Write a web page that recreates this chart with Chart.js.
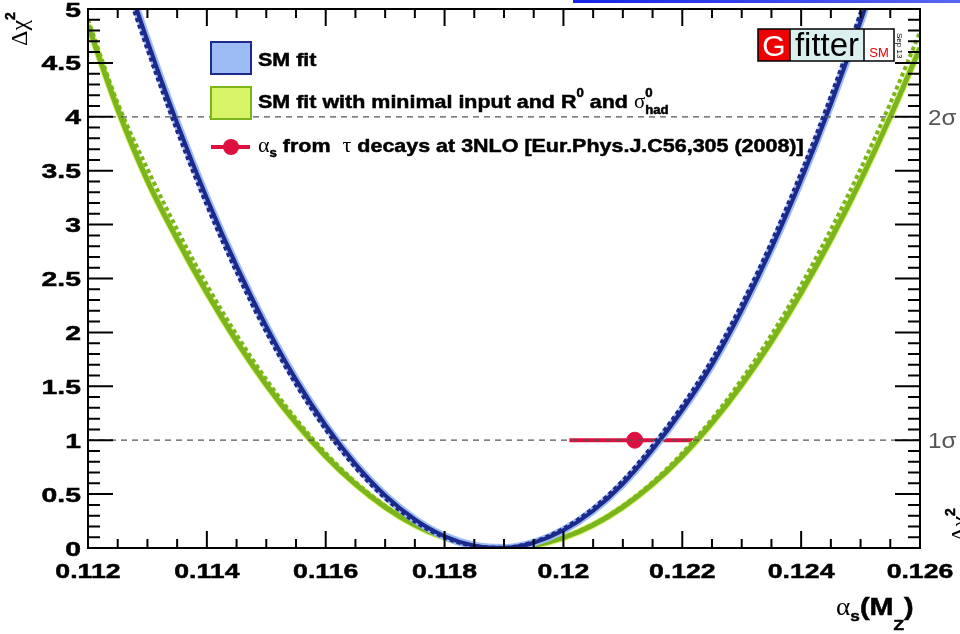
<!DOCTYPE html>
<html>
<head>
<meta charset="utf-8">
<script src="https://cdn.jsdelivr.net/npm/chart.js@4.4.0/dist/chart.umd.min.js"></script>
<style>
  html, body { margin: 0; padding: 0; background: #fff; overflow: hidden; }
  #wrap { position: relative; width: 960px; height: 634px; }
</style>
</head>
<body>
<div id="wrap"><canvas id="chart" width="960" height="634"></canvas></div>
<script>
// alpha_s(M_Z) scan points
const alphaS = [0.1120, 0.1125, 0.1130, 0.1135, 0.1140, 0.1145, 0.1150, 0.1155, 0.1160, 0.1165,
                0.1170, 0.1175, 0.1180, 0.1185, 0.1190, 0.1195, 0.1200, 0.1205, 0.1210, 0.1215,
                0.1220, 0.1225, 0.1230, 0.1235, 0.1240, 0.1245, 0.1250, 0.1255, 0.1260];

// SM fit (blue), solid and dotted curve
const smFit = [6.435, 5.536, 4.705, 3.941, 3.245, 2.617, 2.056, 1.562, 1.137, 0.779,
               0.488, 0.265, 0.109, 0.022, 0.001, 0.049, 0.164, 0.346, 0.596, 0.914,
               1.280, 1.701, 2.207, 2.778, 3.415, 4.117, 4.885, 5.719, 6.618];
const smFitDotted = [6.342, 5.450, 4.626, 3.869, 3.179, 2.558, 2.003, 1.517, 1.098, 0.746,
                     0.463, 0.246, 0.098, 0.017, 0.003, 0.057, 0.179, 0.368, 0.625, 0.949,
                     1.320, 1.749, 2.261, 2.837, 3.482, 4.190, 4.964, 5.800, 6.710];

// SM fit with minimal input (green), solid and dotted curve
const minFit = [4.850, 4.070, 3.408, 2.864, 2.367, 1.917, 1.515, 1.160, 0.852, 0.592,
                0.379, 0.213, 0.095, 0.024, 0.000, 0.024, 0.095, 0.213, 0.379, 0.592,
                0.852, 1.160, 1.515, 1.917, 2.367, 2.864, 3.408, 4.000, 4.639];
const minFitDotted = [4.900, 4.126, 3.516, 2.954, 2.441, 1.978, 1.563, 1.196, 0.879, 0.610,
                      0.391, 0.220, 0.098, 0.024, 0.000, 0.024, 0.098, 0.220, 0.391, 0.610,
                      0.879, 1.196, 1.563, 1.978, 2.441, 2.954, 3.516, 4.126, 4.785];

// alpha_s from tau decays
const tauValue = [0.1212];
const tauRange = [0.1201, 0.1223];

// 1 sigma / 2 sigma levels
const sigmaLevels = [1, 4];
const sigmaLabels = ['1σ', '2σ'];

// tick labels
const xTicks = [0.112, 0.114, 0.116, 0.118, 0.120, 0.122, 0.124, 0.126];
const xTickLabels = ['0.112', '0.114', '0.116', '0.118', '0.12', '0.122', '0.124', '0.126'];
const yTicks = [0, 0.5, 1, 1.5, 2, 2.5, 3, 3.5, 4, 4.5, 5];
const yTickLabels = ['0', '0.5', '1', '1.5', '2', '2.5', '3', '3.5', '4', '4.5', '5'];

const NAVY = '#1c2a8c';
const LIGHTBLUE = '#9dbbf5';
const GREEN = '#7ab51d';
const LIGHTGREEN = '#d8f56a';
const RED = '#dd1040';
const FONT = '"Liberation Sans", Arial, sans-serif';
const SERIF = '"Liberation Serif", "DejaVu Serif", serif';

function toPoints(ys) {
    return alphaS.map((x, i) => ({ x: x, y: ys[i] }));
}

function curve(ys, color, width, dash) {
    return {
        data: toPoints(ys),
        borderColor: color,
        borderWidth: width,
        borderDash: dash || [],
        pointRadius: 0,
        cubicInterpolationMode: 'monotone',
        fill: false
    };
}

// text with horizontal stretch (the reference fonts are wider than Helvetica)
function stretchText(ctx, text, x, y, font, color, align, sx) {
    ctx.save();
    ctx.font = font;
    ctx.fillStyle = color;
    ctx.textBaseline = 'alphabetic';
    const w = ctx.measureText(text).width * sx;
    let x0 = x;
    if (align === 'center') x0 = x - w / 2;
    if (align === 'right') x0 = x - w;
    ctx.translate(x0, y);
    ctx.scale(sx, 1);
    ctx.textAlign = 'left';
    ctx.fillText(text, 0, 0);
    if (font.indexOf('bold') === 0) {
        // a bit heavier, like the ROOT rendering
        ctx.strokeStyle = color;
        ctx.lineWidth = 0.5;
        ctx.strokeText(text, 0, 0);
    }
    ctx.restore();
    return w;
}

// pieces: [text, font, dy, sx]
function richText(ctx, pieces, x, y, color) {
    let cx = x;
    pieces.forEach(p => {
        cx += stretchText(ctx, p[0], cx, y + (p[2] || 0), p[1], color, 'left', p[3] || 1);
    });
    return cx;
}

const rootStyle = {
    id: 'rootStyle',
    afterDatasetsDraw(chart) {
        const ctx = chart.ctx;
        const area = chart.chartArea;
        const xs = chart.scales.x;
        const ys = chart.scales.y;

        // frame and inner ticks
        ctx.save();
        ctx.strokeStyle = '#000';
        ctx.lineWidth = 2;
        ctx.strokeRect(area.left, area.top, area.right - area.left, area.bottom - area.top);
        ctx.beginPath();
        for (let k = 0; k <= 28; k++) {
            const px = xs.getPixelForValue(0.112 + k * 0.0005);
            const len = k % 4 === 0 ? 17 : 9;
            ctx.moveTo(px, area.bottom); ctx.lineTo(px, area.bottom - len);
            ctx.moveTo(px, area.top); ctx.lineTo(px, area.top + len);
        }
        for (let k = 0; k <= 50; k++) {
            const py = ys.getPixelForValue(k * 0.1);
            const len = k % 5 === 0 ? 25 : 12;
            ctx.moveTo(area.left, py); ctx.lineTo(area.left + len, py);
            ctx.moveTo(area.right, py); ctx.lineTo(area.right - len, py);
        }
        ctx.stroke();
        ctx.restore();

        // tick labels
        const tickFont = 'bold 21px ' + FONT;
        xTicks.forEach((v, i) => {
            stretchText(ctx, xTickLabels[i], xs.getPixelForValue(v), 578, tickFont, '#000', 'center', 1.27);
        });
        yTicks.forEach((v, i) => {
            stretchText(ctx, yTickLabels[i], 81, ys.getPixelForValue(v) + 7.5, tickFont, '#000', 'right', 1.35);
        });

        // sigma labels
        sigmaLevels.forEach((v, i) => {
            stretchText(ctx, sigmaLabels[i], 928, ys.getPixelForValue(v) + 8, '22px ' + FONT, '#555', 'left', 1.1);
        });

        // y axis title, rotated (also the cut-off copy on the right edge)
        [[27, 46], [967, 542]].forEach(pos => {
            ctx.save();
            ctx.translate(pos[0], pos[1]);
            ctx.rotate(-Math.PI / 2);
            richText(ctx, [['Δχ', '24px ' + SERIF, 0, 1], ['2', 'bold 14px ' + FONT, -12, 1]], 0, 0, '#000');
            ctx.restore();
        });

        // x axis title
        richText(ctx, [
            ['α', '26px ' + SERIF, 0, 1.05],
            ['s', 'bold 15px ' + FONT, 6, 1.15],
            ['(M', 'bold 24px ' + FONT, 0, 1.2],
            ['Z', 'bold 15px ' + FONT, 15, 1.15],
            [')', 'bold 24px ' + FONT, 0, 1.2]
        ], 836, 615, '#000');

        // legend
        ctx.save();
        ctx.lineWidth = 2;
        ctx.fillStyle = LIGHTBLUE;
        ctx.strokeStyle = NAVY;
        ctx.fillRect(211, 42, 40, 32);
        ctx.strokeRect(211, 42, 40, 32);
        ctx.fillStyle = LIGHTGREEN;
        ctx.strokeStyle = GREEN;
        ctx.fillRect(211, 87, 40, 32);
        ctx.strokeRect(211, 87, 40, 32);
        ctx.strokeStyle = RED;
        ctx.lineWidth = 4;
        ctx.beginPath();
        ctx.moveTo(211, 147); ctx.lineTo(250, 147);
        ctx.stroke();
        ctx.fillStyle = RED;
        ctx.beginPath();
        ctx.arc(231, 147, 8, 0, Math.PI * 2);
        ctx.fill();
        ctx.restore();

        const lf = 'bold 19px ' + FONT;
        const ls = 'bold 12px ' + FONT;
        stretchText(ctx, 'SM fit', 258, 66, lf, '#000', 'left', 1.13);
        let cx = richText(ctx, [['SM fit with minimal input and R', lf, 0, 1.13], ['0', ls, -11, 1.1],
                                [' and ', lf, 0, 1.13], ['σ', '20px ' + SERIF, 0, 1.05]], 258, 108, '#000');
        stretchText(ctx, '0', cx, 97, ls, '#000', 'left', 1.1);
        stretchText(ctx, 'had', cx, 114, ls, '#000', 'left', 1.1);
        richText(ctx, [['α', '21px ' + SERIF, 0, 1.05], ['s', ls, 5, 1.1], [' from  ', lf, 0, 1.13],
                       ['τ', '21px ' + SERIF, 0, 1.05],
                       [' decays at 3NLO [Eur.Phys.J.C56,305 (2008)]', lf, 0, 1.13]], 258, 152, '#000');

        // Gfitter logo
        ctx.save();
        ctx.fillStyle = '#ee0000';
        ctx.fillRect(758, 29, 32, 32);
        ctx.fillStyle = '#dcefef';
        ctx.fillRect(790, 29, 74, 32);
        ctx.fillStyle = '#fff';
        ctx.fillRect(864, 29, 30, 32);
        ctx.strokeStyle = '#000';
        ctx.lineWidth = 1.5;
        ctx.strokeRect(758, 29, 136, 32);
        ctx.beginPath();
        ctx.moveTo(790, 29); ctx.lineTo(790, 61);
        ctx.moveTo(864, 29); ctx.lineTo(864, 61);
        ctx.stroke();
        ctx.restore();
        stretchText(ctx, 'G', 774, 56, '30px ' + FONT, '#fff', 'center', 1);
        stretchText(ctx, 'fitter', 827, 56, '33px ' + FONT, '#000', 'center', 1);
        stretchText(ctx, 'SM', 879, 57, '13px ' + FONT, '#ee0000', 'center', 1);
        ctx.save();
        ctx.translate(897, 33);
        ctx.rotate(Math.PI / 2);
        stretchText(ctx, 'Sep 13', 0, 0, '8px ' + FONT, '#000', 'left', 1);
        ctx.restore();

        // blue bar along the top edge
        const g = ctx.createLinearGradient(573, 0, 960, 0);
        g.addColorStop(0, '#1524e6');
        g.addColorStop(1, '#5a66f2');
        ctx.fillStyle = g;
        ctx.fillRect(573, 0, 387, 3);
    }
};

const datasets = [
    // drawn last-to-first: index 0 ends up on top
    {
        data: [{ x: 0.112, y: sigmaLevels[0] }, { x: 0.126, y: sigmaLevels[0] }],
        borderColor: '#555', borderWidth: 1.2, borderDash: [6, 5], pointRadius: 0
    },
    {
        data: [{ x: 0.112, y: sigmaLevels[1] }, { x: 0.126, y: sigmaLevels[1] }],
        borderColor: '#555', borderWidth: 1.2, borderDash: [6, 5], pointRadius: 0
    },
    curve(smFitDotted, NAVY, 4, [4, 3]),
    curve(smFit, NAVY, 4),
    curve(smFit, LIGHTBLUE, 8),
    curve(minFitDotted, GREEN, 4, [4, 3]),
    curve(minFit, GREEN, 5),
    curve(minFit, LIGHTGREEN, 7),
    {
        data: [{ x: tauValue[0], y: 1 }],
        borderColor: RED, backgroundColor: RED, pointRadius: 8, showLine: false
    },
    {
        data: [{ x: tauRange[0], y: 1 }, { x: tauRange[1], y: 1 }],
        borderColor: RED, borderWidth: 4, pointRadius: 0
    }
];

new Chart(document.getElementById('chart'), {
    type: 'line',
    data: { datasets: datasets },
    options: {
        responsive: false,
        animation: false,
        devicePixelRatio: 1,
        layout: { padding: { top: 8, right: 40, bottom: 0, left: 0 } },
        plugins: { legend: { display: false }, tooltip: { enabled: false } },
        scales: {
            x: {
                type: 'linear', min: 0.112, max: 0.126,
                ticks: { display: false }, grid: { display: false }, border: { display: false },
                afterFit: s => { s.height = 86; }
            },
            y: {
                type: 'linear', min: 0, max: 5,
                ticks: { display: false }, grid: { display: false }, border: { display: false },
                afterFit: s => { s.width = 88; }
            }
        }
    },
    plugins: [rootStyle]
});
</script>
</body>
</html>
